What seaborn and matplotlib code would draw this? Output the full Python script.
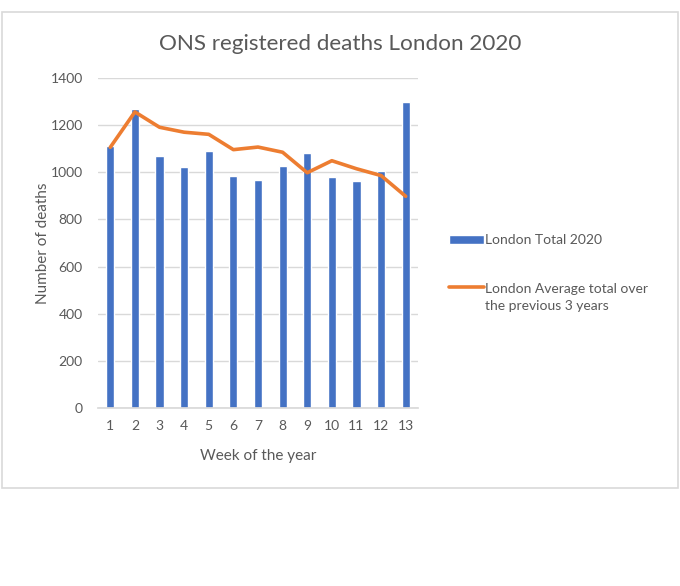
import numpy as np
import pandas as pd
import seaborn as sns
import matplotlib.pyplot as plt
from matplotlib.patches import Rectangle
from matplotlib.lines import Line2D
from matplotlib.legend_handler import HandlerLine2D

# weekly registered deaths, London
weeks = [str(w) for w in range(1, 14)]
total_2020 = [1110, 1270, 1071, 1024, 1089, 984, 966, 1027, 1080, 980, 962, 1005, 1297]
avg_prev3 = [1106, 1256, 1191, 1170, 1161, 1096, 1107, 1085, 998, 1049, 1015, 986, 898]

df = pd.DataFrame({'week': weeks, 'total': total_2020, 'avg': avg_prev3})

sns.set_theme(style='white')
plt.rcParams['font.family'] = ['Lato', 'DejaVu Sans']

blue = '#4472C4'
orange = '#ED7D31'
grey_txt = '#595959'
grid_col = '#D9D9D9'


class TopLineHandler(HandlerLine2D):
    # put the line next to the first row of a two-line label, like Excel does
    def create_artists(self, legend, orig_handle, xdescent, ydescent, width, height,
                       fontsize, trans):
        return super().create_artists(legend, orig_handle, xdescent, ydescent - 16,
                                      width, height, fontsize, trans)


fig = plt.figure(figsize=(6.8, 5.86), dpi=100)
ax = fig.add_axes([0.1441, 0.3038, 0.4706, 0.5631])

sns.barplot(data=df, x='week', y='total', color=blue, width=0.33,
            saturation=1, label='London Total 2020', ax=ax)
sns.pointplot(data=df, x='week', y='avg', color=orange, markers='',
              linewidth=2.6, label='London Average total over\nthe previous 3 years', ax=ax)

ax.set_ylim(0, 1400)
ax.set_yticks(range(0, 1401, 200))
ax.set_xlim(-0.5, 12.5)
ax.grid(axis='y', color=grid_col, linewidth=1)
ax.set_axisbelow(True)
for s in ['top', 'right', 'left']:
    ax.spines[s].set_visible(False)
ax.spines['bottom'].set_color(grid_col)
ax.tick_params(axis='both', length=0, labelsize=10, colors=grey_txt)
ax.tick_params(axis='y', pad=11)
ax.tick_params(axis='x', pad=9)

ax.set_xlabel('Week of the year', fontsize=11, color=grey_txt, labelpad=12)
ax.set_ylabel('Number of deaths', fontsize=11, color=grey_txt, labelpad=0)

fig.text(0.5, 0.925, 'ONS registered deaths London 2020', ha='center', va='center',
         fontsize=16.2, color=grey_txt)

handles, labels = ax.get_legend_handles_labels()
i_bar = labels.index('London Total 2020')
order = [i_bar, 1 - i_bar]
leg = ax.legend([handles[i] for i in order], [labels[i] for i in order],
                loc='upper left', bbox_to_anchor=(0.642, 0.622), bbox_transform=fig.transFigure,
                frameon=False, fontsize=10, handlelength=2.5, handleheight=0.6,
                handletextpad=0.1, labelspacing=2.65,
                handler_map={Line2D: TopLineHandler()})
for t in leg.get_texts():
    t.set_color(grey_txt)
    t.set_linespacing(1.5)

fig.patches.append(Rectangle((0.003, 1 - 488 / 586), 0.994, (488 - 12) / 586,
                             transform=fig.transFigure, fill=False,
                             edgecolor=grid_col, linewidth=1.2))

fig.savefig('out.png', dpi=100)
